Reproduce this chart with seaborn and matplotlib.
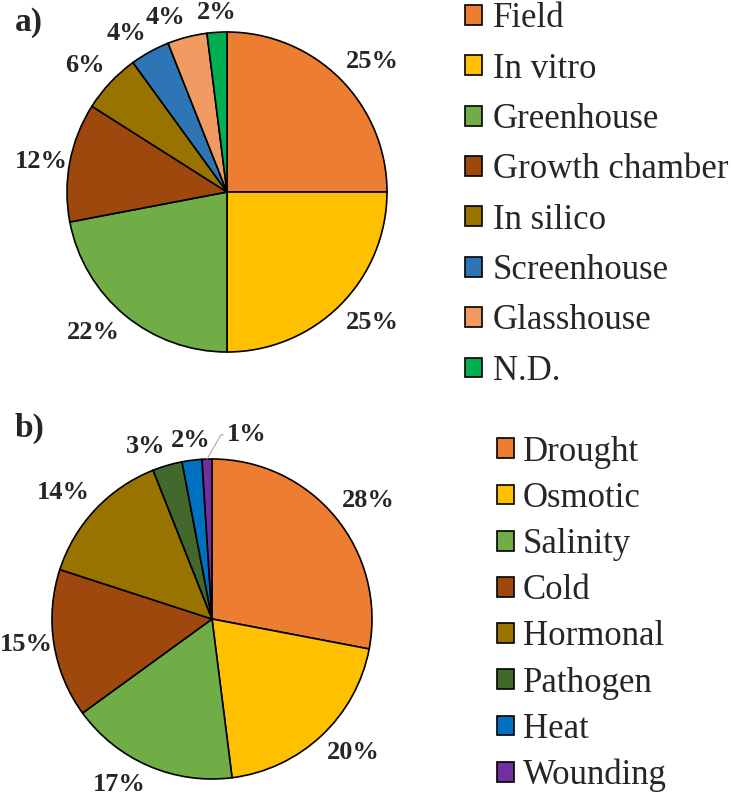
import numpy as np
import matplotlib.pyplot as plt
import seaborn as sns

# a) experimental setting
setting_names = ["Field", "In vitro", "Greenhouse", "Growth chamber",
                 "In silico", "Screenhouse", "Glasshouse", "N.D."]
setting_pct = [25, 25, 22, 12, 6, 4, 4, 2]
setting_colors = ["#ED7D31", "#FFC000", "#70AD47", "#9E480E",
                  "#997300", "#2E75B6", "#F19B62", "#00B050"]

# b) stress type
stress_names = ["Drought", "Osmotic", "Salinity", "Cold",
                "Hormonal", "Pathogen", "Heat", "Wounding"]
stress_pct = [28, 20, 17, 15, 14, 3, 2, 1]
stress_colors = ["#ED7D31", "#FFC000", "#70AD47", "#9E480E",
                 "#997300", "#43682B", "#0070C0", "#7030A0"]

sns.set_theme(style="white")
plt.rcParams["font.family"] = ["Liberation Serif", "DejaVu Serif"]

W, H = 734, 795
fig = plt.figure(figsize=(W / 100, H / 100), dpi=100)


def px_axes(cx, cy, r):
    return fig.add_axes([(cx - r) / W, 1 - (cy + r) / H, 2 * r / W, 2 * r / H])


def draw_pie(ax, values, colors):
    wedges, _ = ax.pie(values, colors=colors, startangle=90, counterclock=False,
                       radius=1.0,
                       wedgeprops=dict(edgecolor="black", linewidth=1.2))
    total = float(sum(values))
    for w, v in zip(wedges, values):
        ang = np.deg2rad((w.theta1 + w.theta2) / 2)
        c, s = np.cos(ang), np.sin(ang)
        txt = f"{round(v / total * 100)}%"
        ha = "left" if c > 0.2 else ("right" if c < -0.2 else "center")
        va = "bottom" if s > 0.3 else ("top" if s < -0.3 else "center")
        d = 1.01 if abs(s) < 0.3 else 1.05
        if v / total < 0.015:
            ax.annotate(txt, xy=(c, s), xytext=(c + 0.125, s + 0.08),
                        ha="left", va="bottom", fontsize=19, fontweight="bold",
                        arrowprops=dict(arrowstyle="-", color="#A0A0A0", lw=0.7,
                                        shrinkA=0, shrinkB=0,
                                        connectionstyle="angle,angleA=0,angleB=60"))
        else:
            ax.text(d * c, d * s, txt, ha=ha, va=va,
                    fontsize=19, fontweight="bold")
    ax.set_xlim(-1, 1)
    ax.set_ylim(-1, 1)
    ax.set_aspect("equal")
    ax.axis("off")
    return wedges


ax_a = px_axes(227, 192, 160)
wa = draw_pie(ax_a, setting_pct, setting_colors)
fig.legend(wa, setting_names, loc="center left",
           bbox_to_anchor=(465 / W, 1 - 195 / H), frameon=False,
           fontsize=25, handlelength=0.5, handleheight=0.5,
           handletextpad=0.3, labelspacing=0.50, borderpad=0, borderaxespad=0)

ax_b = px_axes(212, 619, 160)
wb = draw_pie(ax_b, stress_pct, stress_colors)
fig.legend(wb, stress_names, loc="center left",
           bbox_to_anchor=(497 / W, 1 - 614 / H), frameon=False,
           fontsize=25, handlelength=0.5, handleheight=0.5,
           handletextpad=0.25, labelspacing=0.38, borderpad=0, borderaxespad=0)

fig.text(15 / W, 1 - 31 / H, "a)", fontsize=24, fontweight="bold", va="baseline")
fig.text(15 / W, 1 - 437 / H, "b)", fontsize=24, fontweight="bold", va="baseline")

fig.savefig("out.png", dpi=100)
